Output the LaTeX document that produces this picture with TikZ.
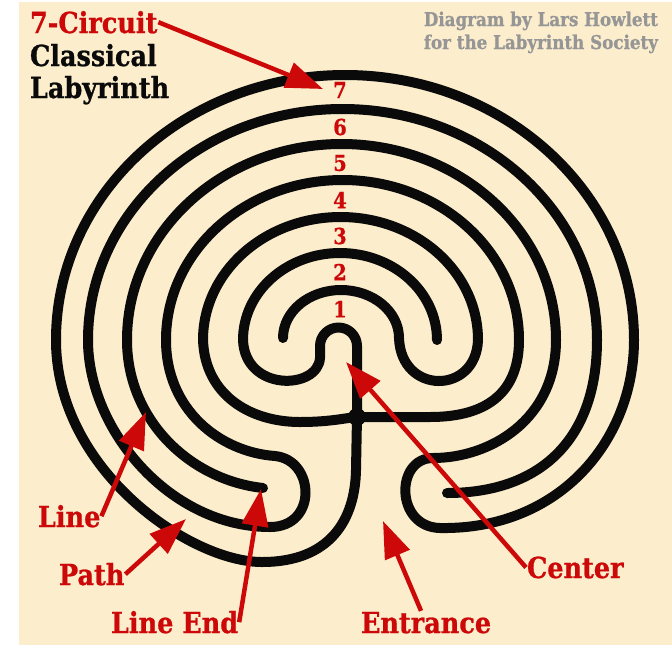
\documentclass[tikz,border=0pt]{standalone}
\usepackage{fontspec}
\setmainfont{DejaVu Serif}[FakeStretch=0.88, BoldFeatures={FakeBold=0.8}]
\usetikzlibrary{arrows.meta}

\definecolor{labcream}{RGB}{252,238,204}
\definecolor{labred}{RGB}{204,8,8}
\definecolor{labgray}{RGB}{150,150,150}
\definecolor{labink}{RGB}{10,10,10}

\begin{document}
\begin{tikzpicture}[
  x=1pt,
  y=-1pt,
  every node/.style={inner sep=1pt, outer sep=0pt},
  heading/.style={font=\bfseries\fontsize{29}{31}\selectfont, anchor=base west},
  credit/.style={font=\bfseries\fontsize{19}{21}\selectfont, text=labgray, anchor=base east},
  circuitnum/.style={font=\bfseries\fontsize{22}{23}\selectfont, text=labred},
  callout/.style={font=\bfseries\fontsize{29}{31}\selectfont, text=labred, anchor=base west},
  wall/.style={draw=labink, line width=10pt, line cap=round, line join=round},
  pointer/.style={draw=labred, line width=4.5pt, -{Triangle[length=37pt, width=26pt]}}
]

  \path[use as bounding box] (0,0) rectangle (672,649);
  \fill[labcream] (19,2) rectangle (672,645);

  % Seed: centre of the cross
  \coordinate (cross) at (357,417);

  % Cross top, cap, left bowl, arc over 2
  \draw[wall] (cross) -- (357,346) arc[start angle=0, end angle=-180, radius=18.5]
    -- (320,358) .. controls (318,390) and (245,392) .. (243,340)
    arc[start angle=180, end angle=360, x radius=97, y radius=87];

  % Arc over 1, right bowl, arc over 3, left arm of the cross
  \draw[wall] (283,338) arc[start angle=180, end angle=360, x radius=58, y radius=48]
    .. controls (401,395) and (476,395) .. (478,340)
    arc[start angle=0, end angle=-180, x radius=137.5, y radius=123]
    .. controls (205,395) and (250,422) .. (300,422)
    .. controls (330,422) and (345,418) .. (cross);

  % Right arm of the cross, arc over 4, lower left hook, arc over 6
  \draw[wall] (cross) -- (430,417) .. controls (490,417) and (519,390) .. (519,340)
    arc[start angle=0, end angle=-180, x radius=176.5, y radius=160]
    .. controls (166,410) and (220,452) .. (275,456)
    .. controls (315,460) and (318,527) .. (270,527)
    .. controls (170,527) and (88,430) .. (88,340)
    arc[start angle=180, end angle=360, x radius=254.5, y radius=231]
    .. controls (597,440) and (540,493) .. (447,493);

  % Arc over 5, lower right hook, outer wall, cross bottom
  \draw[wall] (263,488) .. controls (190,480) and (127,420) .. (127,340)
    arc[start angle=180, end angle=360, x radius=214.5, y radius=196]
    .. controls (556,420) and (490,458) .. (433,458)
    .. controls (395,458) and (395,527) .. (440,528)
    .. controls (560,530) and (634,440) .. (634,340)
    arc[start angle=0, end angle=-180, x radius=289, y radius=265]
    .. controls (56,470) and (190,562) .. (262,562)
    .. controls (330,562) and (355,520) .. (356,470) -- (cross);

  \fill[labink] (cross) circle[radius=9];

  % Title
  \node[heading, text=labred] (title) at (29,33) {7-Circuit};
  \node[heading, text=labink] (titleclassical) at (29,66) {Classical};
  \node[heading, text=labink] (titlelabyrinth) at (29,98) {Labyrinth};

  % Credit
  \node[credit] (creditby) at (659,26) {Diagram by Lars Howlett};
  \node[credit] (creditfor) at (659,49) {for the Labyrinth Society};

  % Circuit numbers
  \foreach \n/\y in {1/309, 2/272, 3/236, 4/200, 5/163, 6/127, 7/90}
    \node[circuitnum] (num\n) at (340,\y) {\n};

  % Callouts
  \node[callout] (lblline) at (37,527) {Line};
  \node[callout] (lblpath) at (58,585) {Path};
  \node[callout] (lbllineend) at (110,633) {Line End};
  \node[callout] (lblentrance) at (360,633) {Entrance};
  \node[callout] (lblcenter) at (526,578) {Center};

  \coordinate (circuittip) at (323,89);
  \coordinate (linetip) at (146,412);
  \coordinate (pathtip) at (186,519);
  \coordinate (lineendtip) at (261,489);
  \coordinate (entrancetip) at (383,521);
  \coordinate (centertip) at (346,362);

  % Arrows
  \draw[pointer] (title.east) -- (circuittip);
  \draw[pointer] (lblline.east) -- (linetip);
  \draw[pointer] (lblpath.east) -- (pathtip);
  \draw[pointer] (lbllineend.east) -- (lineendtip);
  \draw[pointer] ([xshift=-5pt]lblentrance.north) -- (entrancetip);
  \draw[pointer] (lblcenter.west) -- (centertip);

\end{tikzpicture}
\end{document}
